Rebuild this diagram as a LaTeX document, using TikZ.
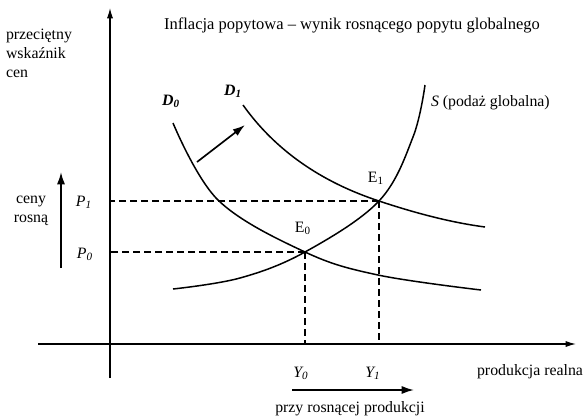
\documentclass[tikz,border=0pt]{standalone}
\usepackage{fontspec}
\setmainfont{Liberation Serif}
\usetikzlibrary{arrows.meta}

\begin{document}
\begin{tikzpicture}[x=0.6pt, y=-0.6pt,
  axis/.style={-{Latex[length=2.2mm,width=1.3mm]}, line width=0.7pt},
  curve/.style={line width=0.9pt},
  guide/.style={dash pattern=on 4pt off 2.6pt, line width=0.7pt},
  lbl/.style={font=\fontsize{9.5}{11.4}\selectfont, inner sep=1pt},
  arr/.style={-{Latex[length=2.6mm,width=1.7mm]}, line width=1pt}
]
% pixel grid of the scan (586 x 418), y pointing down
\useasboundingbox (0,0) rectangle (586,418);

% axes
\coordinate (O)    at (110,344);
\coordinate (ybot) at (110,378);
\coordinate (ytop) at (110,8);
\coordinate (xlft) at (38,344);
\coordinate (xrgt) at (576,344);
\draw[axis] (ybot) -- (ytop);
\draw[axis] (xlft) -- (xrgt);

% equilibria
\coordinate (E0) at (305,252);
\coordinate (E1) at (379,201);

% curves (fixed points)
\draw[curve] plot[smooth, tension=0.6] coordinates
  {(173,123) (218,200) (E0) (378,275) (481,290)};
\draw[curve] (243,105) .. controls (275,150) and (321,182) .. (E1)
  .. controls (421,215) and (455,223) .. (485,227);
\draw[curve] plot[smooth, tension=0.6] coordinates
  {(173,289) (240,278) (E0) (E1) (413,137) (425,85)};

% guide lines
\draw[guide] (E1) -- (E1 -| O);
\draw[guide] (E0) -- (E0 -| O);
\draw[guide] (E1) -- (E1 |- O);
\draw[guide] (E0) -- (E0 |- O);

% shift of demand
\coordinate (sh0) at (197,162);
\coordinate (sh1) at (245,125);
\draw[arr] (sh0) -- (sh1);

% texts
\node[lbl, font=\fontsize{9.9}{12}\selectfont] (title) at (352,25) {Inflacja popytowa -- wynik rosnącego popytu globalnego};
\node[lbl, align=left, anchor=north west] (yname) at (4,27) {przeciętny\\wskaźnik\\cen};
\node[lbl] (d0) at (171,101) {\textbf{\textit{D\textsubscript{0}}}};
\node[lbl] (d1) at (233,91) {\textbf{\textit{D\textsubscript{1}}}};
\node[lbl, anchor=west] (s) at (429,103) {\textit{S} (podaż globalna)};
\node[lbl] (e0) at (303,228) {E\textsubscript{0}};
\node[lbl] (e1) at (376,178) {E\textsubscript{1}};
\node[lbl] (p1) at (84,202) {\textit{P\textsubscript{1}}};
\node[lbl] (p0) at (85,254) {\textit{P\textsubscript{0}}};
\node[lbl] (y0) at (301,373) {\textit{Y\textsubscript{0}}};
\node[lbl] (y1) at (373,373) {\textit{Y\textsubscript{1}}};
\node[lbl, anchor=east] (xname) at (585,372) {produkcja realna};
\node[lbl, align=center] (up) at (31,211) {ceny\\rosną};

% price and output arrows
\coordinate (pa0) at (61,268);
\coordinate (pa1) at (61,172);
\draw[arr] (pa0) -- (pa1);
\coordinate (qa0) at (292,390);
\coordinate (qa1) at (414,390);
\draw[arr] (qa0) -- (qa1);
\node[lbl] (more) at (350,409) {przy rosnącej produkcji};
\end{tikzpicture}
\end{document}
